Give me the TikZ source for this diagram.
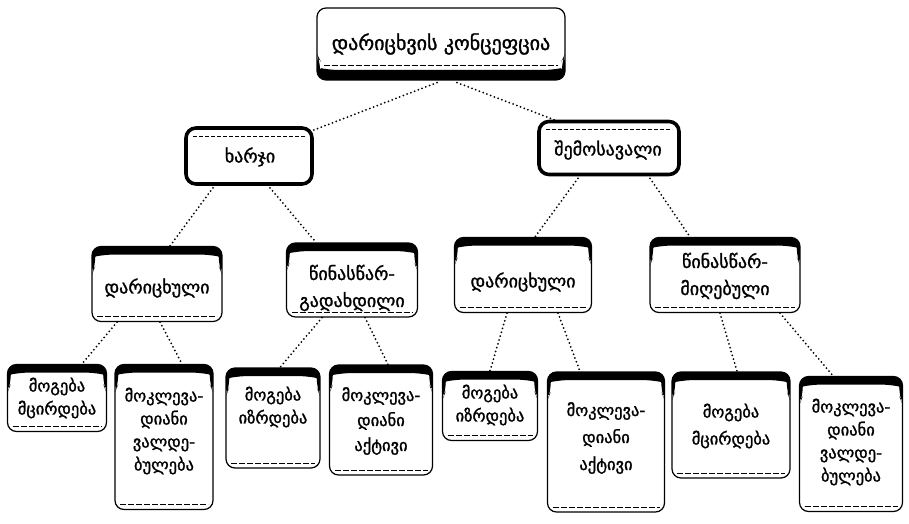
\documentclass[tikz,border=0pt]{standalone}
\usepackage{fontspec}
\newfontfamily\geo[Script=Georgian,FakeBold=1.4]{DejaVu Sans}
\begin{document}
\begin{tikzpicture}[x=1pt,y=-1pt,
  boxbase/.style={draw, line width=1.2pt, rounded corners=9pt, inner sep=0pt},
  % box with a heavy black header band whose inner edge curves down the sides
  tabbox/.style={boxbase, path picture={
    \fill (path picture bounding box.north west) -- (path picture bounding box.north east)
      -- ([yshift=-28pt]path picture bounding box.north east)
      -- ([xshift=-3.2pt,yshift=-20pt]path picture bounding box.north east)
      .. controls ([xshift=-3.2pt,yshift=-10pt]path picture bounding box.north east)
      .. ([xshift=-14pt,yshift=-8pt]path picture bounding box.north east)
      -- ([xshift=14pt,yshift=-8pt]path picture bounding box.north west)
      .. controls ([xshift=3.2pt,yshift=-10pt]path picture bounding box.north west)
      .. ([xshift=3.2pt,yshift=-20pt]path picture bounding box.north west)
      -- ([yshift=-28pt]path picture bounding box.north west) -- cycle;
    \draw[line width=0.7pt, dash pattern=on 6pt off 2pt]
      ([xshift=5pt,yshift=5pt]path picture bounding box.south west)
      -- ([xshift=-5pt,yshift=5pt]path picture bounding box.south east);}},
  % box with a heavy black base band
  basebox/.style={boxbase, path picture={
    \fill (path picture bounding box.south west) -- (path picture bounding box.south east)
      -- ([yshift=26pt]path picture bounding box.south east)
      -- ([xshift=-3pt,yshift=20pt]path picture bounding box.south east)
      .. controls ([xshift=-3pt,yshift=12pt]path picture bounding box.south east)
      .. ([xshift=-13pt,yshift=10pt]path picture bounding box.south east)
      -- ([xshift=13pt,yshift=10pt]path picture bounding box.south west)
      .. controls ([xshift=3pt,yshift=12pt]path picture bounding box.south west)
      .. ([xshift=3pt,yshift=20pt]path picture bounding box.south west)
      -- ([yshift=26pt]path picture bounding box.south west) -- cycle;
    \draw[line width=0.7pt, dash pattern=on 6pt off 2pt]
      ([xshift=7pt,yshift=15pt]path picture bounding box.south west)
      -- ([xshift=-7pt,yshift=15pt]path picture bounding box.south east);}},
  % box with a heavy frame all round and a dashed rule under its top edge
  framebox/.style={draw, line width=3.6pt, rounded corners=10pt, inner sep=0pt,
    path picture={
    \draw[line width=0.7pt, dash pattern=on 4pt off 2pt]
      ([xshift=7pt,yshift=-8pt]path picture bounding box.north west)
      -- ([xshift=-7pt,yshift=-8pt]path picture bounding box.north east);}},
  lbl/.style={align=center, inner sep=0pt},
  toptext/.style={lbl, font=\geo\fontsize{20}{24}\selectfont},
  onetext/.style={lbl, font=\geo\fontsize{18}{22}\selectfont},
  twotext/.style={lbl, font=\geo\fontsize{18}{27}\selectfont},
  leaftext/.style={lbl, font=\geo\fontsize{16.5}{27}\selectfont},
  leafmid/.style={lbl, font=\geo\fontsize{16.5}{25}\selectfont},
  leafdense/.style={lbl, font=\geo\fontsize{16.5}{23}\selectfont},
  link/.style={line width=2pt, line cap=round, dash pattern=on 0pt off 4pt}
]
\useasboundingbox (0,0) rectangle (909,524);

% ---- boxes ----
% root
\node[basebox, minimum width=248pt, minimum height=72pt] (root) at (441,44) {};
% first level
\node[framebox, minimum width=126pt, minimum height=56pt] (cost) at (249,156) {};
\node[framebox, minimum width=140pt, minimum height=53pt] (income) at (609,148) {};
% second level
\node[tabbox, minimum width=130pt, minimum height=75pt] (accl) at (157,284) {};
\node[tabbox, minimum width=131pt, minimum height=74pt] (prepaid) at (352,280) {};
\node[tabbox, minimum width=137pt, minimum height=75pt] (accr) at (523,275) {};
\node[tabbox, minimum width=150pt, minimum height=75pt] (prerec) at (725,275) {};
% leaves
\node[tabbox, minimum width=99pt, minimum height=67pt] (l1) at (57,398) {};
\node[tabbox, minimum width=98pt, minimum height=145pt] (l2) at (164,437) {};
\node[tabbox, minimum width=94pt, minimum height=100pt] (l3) at (273,418) {};
\node[tabbox, minimum width=103pt, minimum height=110pt] (l4) at (381,420) {};
\node[tabbox, minimum width=95pt, minimum height=69pt] (l5) at (490,406) {};
\node[tabbox, minimum width=117pt, minimum height=140pt] (l6) at (606,442) {};
\node[tabbox, minimum width=118pt, minimum height=106pt] (l7) at (731,425) {};
\node[tabbox, minimum width=103pt, minimum height=135pt] (l8) at (851,444) {};

% ---- texts ----
\node[toptext] (root-t) at (441,44) {დარიცხვის კონცეფცია};
\node[onetext] (cost-t) at (250,157) {ხარჯი};
\node[onetext] (income-t) at (608,150) {შემოსავალი};
\node[twotext] (accl-t) at (157,288) {დარიცხული};
\node[twotext] (prepaid-t) at (352,288) {წინასწარ-\\გადახდილი};
\node[twotext] (accr-t) at (523,282) {დარიცხული};
\node[twotext] (prerec-t) at (725,276) {წინასწარ-\\მიღებული};
\node[leafdense] (l1-t) at (57,398) {მოგება\\მცირდება};
\node[leafdense] (l2-t) at (164,431) {მოკლევა-\\დიანი\\ვალდე-\\ბულება};
\node[leafdense] (l3-t) at (273,407) {მოგება\\იზრდება};
\node[leafmid] (l4-t) at (381,421) {მოკლევა-\\დიანი\\აქტივი};
\node[leafdense] (l5-t) at (490,405) {მოგება\\იზრდება};
\node[leaftext] (l6-t) at (606,438) {მოკლევა-\\დიანი\\აქტივი};
\node[leaftext] (l7-t) at (731,426) {მოგება\\მცირდება};
\node[leafdense] (l8-t) at (851,442) {მოკლევა-\\დიანი\\ვალდე-\\ბულება};

% ---- dotted links ----
\draw[link] ([xshift=-4pt,yshift=-2pt]root.south) -- ([xshift=-3pt,yshift=-5pt]cost.north east);
\draw[link] ([xshift=16pt,yshift=-2pt]root.south) -- ([xshift=22pt,yshift=-2pt]income.north west);
\draw[link] ([xshift=-36pt,yshift=-2pt]cost.south) -- ([xshift=13pt]accl.north);
\draw[link] ([xshift=21pt,yshift=-2pt]cost.south) -- ([xshift=-36pt]prepaid.north);
\draw[link] ([xshift=-31pt,yshift=-2pt]income.south) -- ([xshift=12pt]accr.north);
\draw[link] ([xshift=41pt,yshift=-2pt]income.south) -- ([xshift=-35pt]prerec.north);
\draw[link] ([xshift=-40pt]accl.south) -- ([xshift=25pt]l1.north);
\draw[link] ([xshift=3pt]accl.south) -- ([xshift=18pt]l2.north);
\draw[link] ([xshift=-30pt]prepaid.south) -- ([xshift=7pt]l3.north);
\draw[link] ([xshift=13pt]prepaid.south) -- ([xshift=7pt]l4.north);
\draw[link] ([xshift=-16pt]accr.south) -- (l5.north);
\draw[link] ([xshift=35pt]accr.south) -- ([xshift=-26pt]l6.north);
\draw[link] ([xshift=-5pt]prerec.south) -- ([xshift=6pt]l7.north);
\draw[link] ([xshift=55pt]prerec.south) -- ([xshift=-18pt]l8.north);
\end{tikzpicture}
\end{document}
